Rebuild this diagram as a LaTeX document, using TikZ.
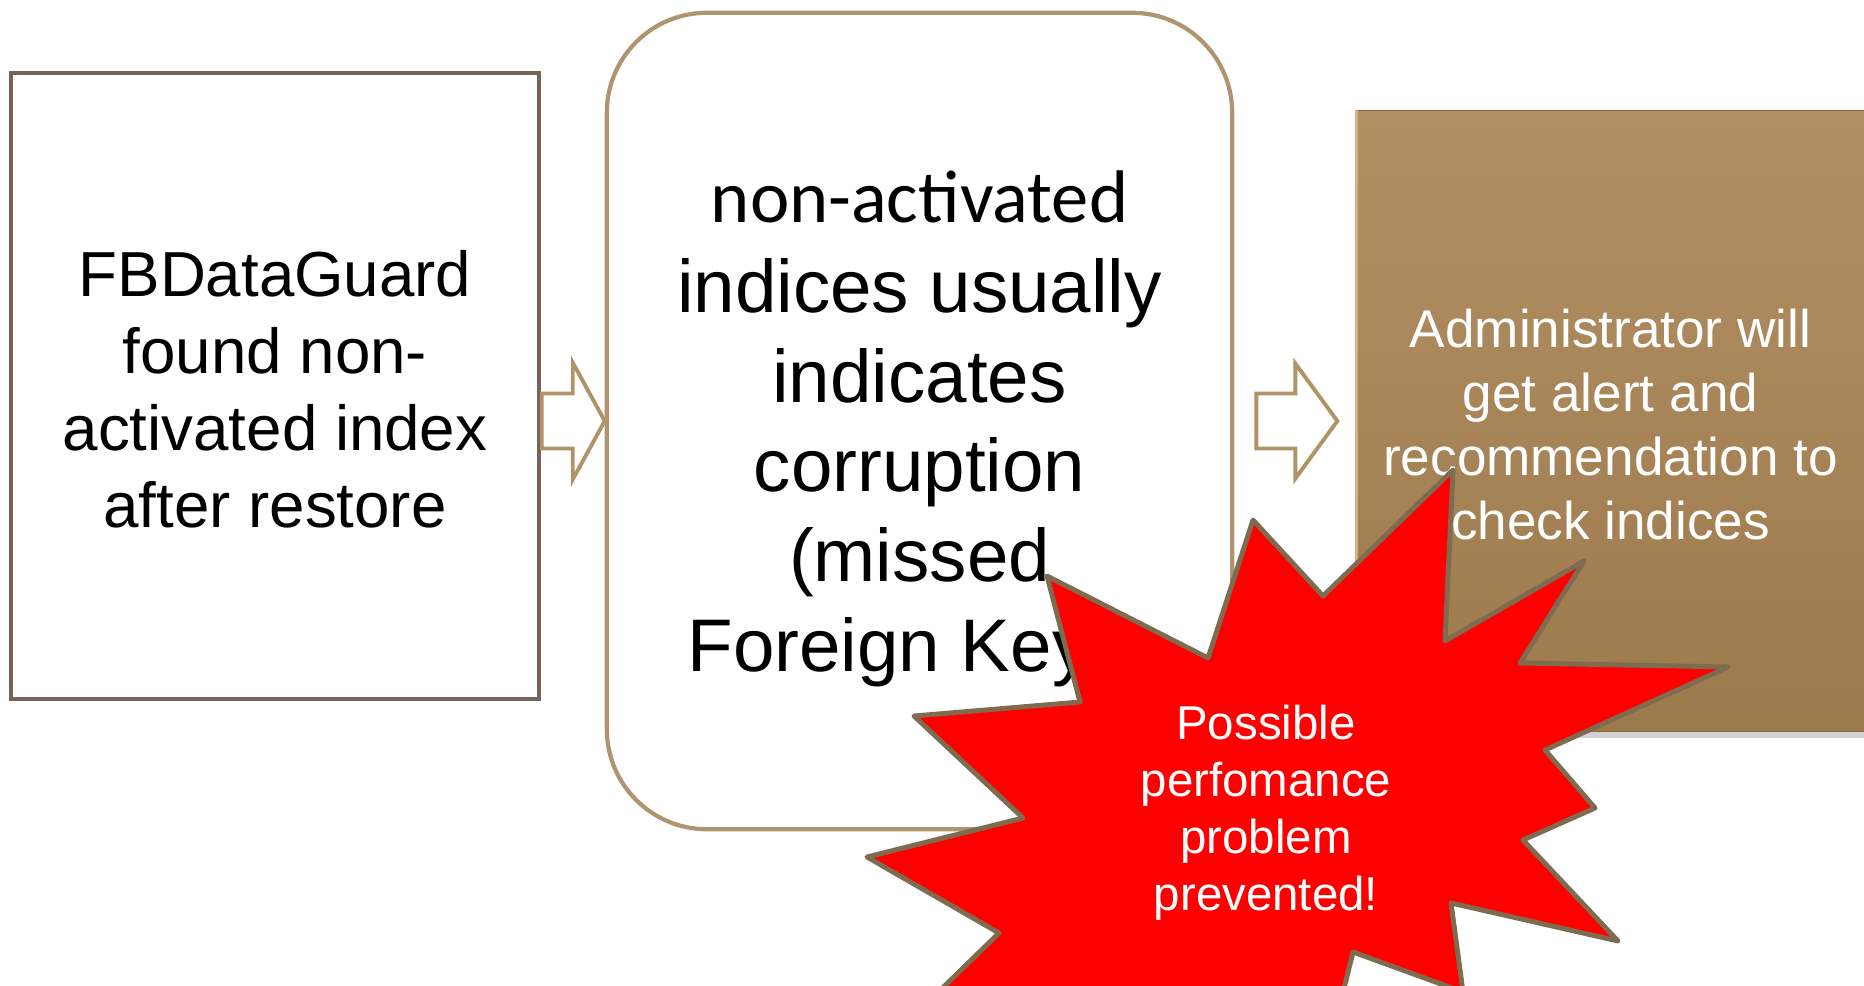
\documentclass[tikz,border=0pt]{standalone}
\usepackage{fontspec}
\setmainfont{Liberation Sans}
\newfontfamily\carlito{Carlito}
\usetikzlibrary{calc,shadows}

\definecolor{boxgray}{RGB}{118,100,90}
\definecolor{boxtan}{RGB}{176,148,112}
\definecolor{arrowtan}{RGB}{176,148,104}
\definecolor{browntop}{RGB}{178,144,100}
\definecolor{brownbot}{RGB}{156,122,76}
\definecolor{brownedge}{RGB}{214,178,130}
\definecolor{burstline}{RGB}{127,107,79}

\begin{document}
\begin{tikzpicture}[x=0.01cm, y=-0.01cm,
  plainbox/.style={draw=boxgray, line width=1.3pt, minimum width=5.28cm, minimum height=6.26cm, align=center, text height=80.6pt, text depth=0pt, font=\fontsize{18.1}{21.9}\selectfont},
  roundbox/.style={draw=boxtan, line width=1.2pt, rounded corners=1cm, minimum width=6.25cm, minimum height=8.16cm, align=center, text depth=0pt, font=\fontsize{21.2}{25.5}\selectfont},
  filledbox/.style={top color=browntop, bottom color=brownbot, draw=brownbot!85!black, line width=0.3pt, minimum width=5.07cm, minimum height=6.2cm, align=center, text height=67.6pt, text depth=0pt, text=white, font=\fontsize{15.1}{18.2}\selectfont},
  blockarrow/.style={draw=arrowtan, fill=white, line width=1.1pt},
  burst/.style={fill=red, draw=burstline, line width=1.4pt, line join=round},
  bursttext/.style={text=white, align=center, text depth=0pt, font=\fontsize{13.5}{16.2}\selectfont}]
\useasboundingbox (0,0) rectangle (1864,985);

\node [plainbox] (found) at (275,386) {FBDataGuard\\found non-\\activated index\\after restore};
\node [roundbox] (means) at (919.5,421) {{\carlito non-activated}\\indices usually\\indicates\\corruption\\(missed\\Foreign Keys)};
\node [filledbox, drop shadow={shadow xshift=0pt, shadow yshift=-2pt, opacity=0.35}] (alert) at (1610.5,421) {Administrator will\\get alert and\\recommendation to\\check indices};
\draw [brownedge, line width=0.8pt] (alert.north west) -- (alert.south west);

\coordinate (tip2) at ([xshift=-0.19cm]alert.west);
\draw [blockarrow] (means.west) -- ++(-32,-58.5) -- ++(0,31) -- ++(-31,0) -- ++(0,55) -- ++(31,0) -- ++(0,31) -- cycle;
\draw [blockarrow] (tip2) -- ++(-42,-57.5) -- ++(0,30) -- ++(-39,0) -- ++(0,55) -- ++(39,0) -- ++(0,30) -- cycle;

\draw [burst] (1453,470) -- (1445,641) -- (1584,561) -- (1520,663) -- (1728,667) -- (1545,750)
  -- (1595,808) -- (1523,840) -- (1618,941) -- (1451,903) -- (1463,992) -- (1353,952)
  -- (1335,1025) -- (1140,1005) -- (925,1005) -- (999,933) -- (867,857) -- (1023,818)
  -- (914,716) -- (1080,702) -- (1047,576) -- (1208,658) -- (1253,520) -- (1323,596) -- cycle;
\node [bursttext] (warn) at (1266,807.5) {Possible\\perfomance\\problem\\prevented!};

\end{tikzpicture}
\end{document}
